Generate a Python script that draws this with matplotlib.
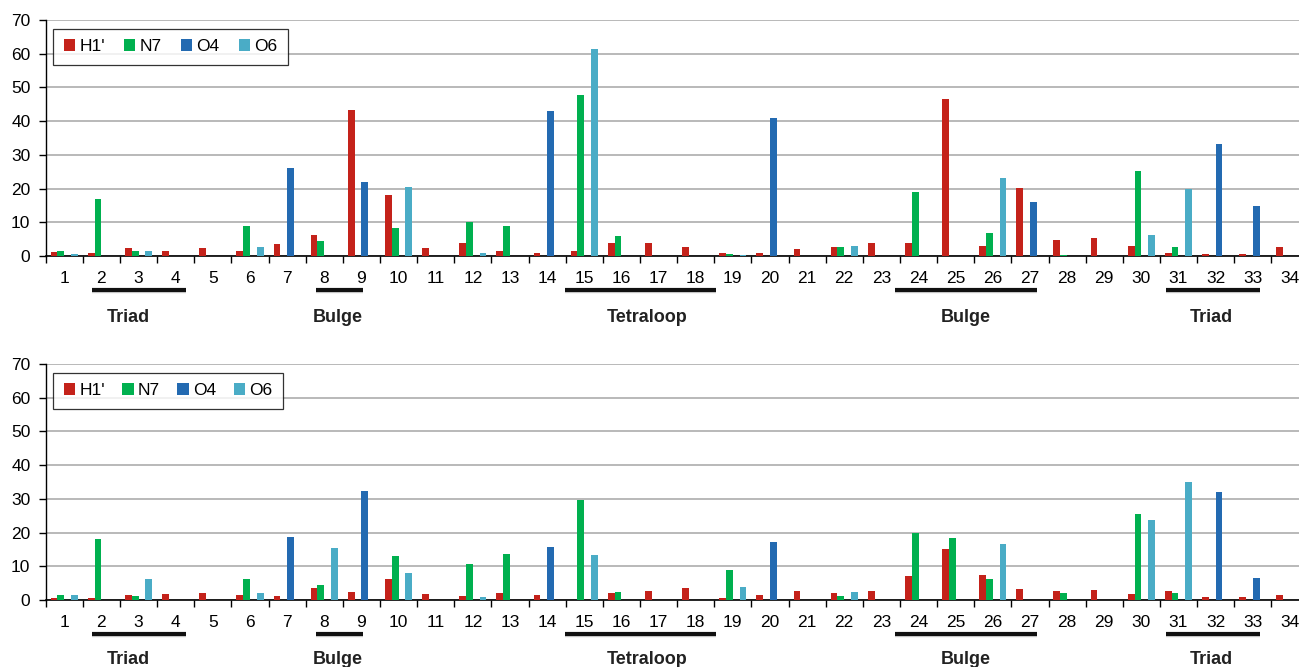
import numpy as np
import matplotlib
matplotlib.use('Agg')
import matplotlib.pyplot as plt

plt.rcParams['font.family'] = ['Liberation Sans', 'DejaVu Sans']

# residue numbers
residues = list(range(1, 35))
series = ["H1'", 'N7', 'O4', 'O6']
colors = ['#C4221A', '#00B04F', '#236AB1', '#4AACC6']

# top panel
top_h1 = [1.2, 0.9, 2.5, 1.4, 2.4, 1.4, 3.5, 6.2, 43.3, 18.1, 2.3, 3.9, 1.5, 1.0, 1.4, 3.8, 4.0,
          2.7, 0.9, 0.9, 2.0, 2.7, 4.0, 4.0, 46.5, 2.9, 20.2, 4.7, 5.2, 2.9, 0.9, 0.5, 0.5, 2.6]
top_n7 = [1.4, 16.9, 1.5, 0, 0, 8.8, 0, 4.5, 0, 8.3, 0, 10.0, 8.8, 0, 47.7, 5.9, 0,
          0, 0.6, 0, 0, 2.6, 0, 19.0, 0, 6.9, 0, 0.2, 0, 25.1, 2.7, 0, 0, 0]
top_o4 = [0, 0, 0, 0, 0, 0, 26.2, 0, 22.0, 0, 0, 0, 0, 43.0, 0, 0, 0,
          0, 0, 40.9, 0, 0, 0, 0, 0, 0, 16.1, 0, 0, 0, 0, 33.1, 14.7, 0]
top_o6 = [0.6, 0, 1.5, 0, 0, 2.7, 0, 0, 0, 20.5, 0, 0.9, 0, 0, 61.3, 0, 0,
          0, 0.2, 0, 0, 3.1, 0, 0, 0, 23.1, 0, 0, 0, 6.1, 19.9, 0, 0, 0]

# bottom panel
bot_h1 = [0.5, 0.7, 1.6, 1.8, 2.0, 1.4, 1.2, 3.5, 2.3, 6.1, 1.7, 1.2, 2.2, 1.6, 0, 2.1, 2.7,
          3.5, 0.6, 1.4, 2.7, 2.1, 2.7, 7.1, 15.0, 7.3, 3.2, 2.8, 3.1, 1.9, 2.8, 0.9, 0.8, 1.5]
bot_n7 = [1.6, 18.1, 1.2, 0, 0, 6.2, 0, 4.6, 0, 13.1, 0, 10.6, 13.8, 0, 29.7, 2.5, 0,
          0, 8.9, 0, 0, 1.2, 0, 19.8, 18.4, 6.2, 0, 2.1, 0, 25.4, 2.1, 0, 0, 0]
bot_o4 = [0, 0, 0, 0, 0, 0, 18.7, 0, 32.2, 0, 0, 0, 0, 15.6, 0, 0, 0,
          0, 0, 17.1, 0, 0, 0, 0, 0, 0, 0, 0, 0, 0, 0, 32.0, 6.5, 0]
bot_o6 = [1.4, 0, 6.1, 0, 0, 2.1, 0, 15.4, 0, 8.0, 0, 0.8, 0, 0, 13.4, 0, 0,
          0, 3.9, 0, 0, 2.4, 0, 0, 0, 16.7, 0, 0, 0, 23.7, 35.1, 0, 0, 0]

# structural regions under the residue axis
region_labels = ['Triad', 'Bulge', 'Tetraloop', 'Bulge', 'Triad']
# underline extents in residue units
region_left = [1.75, 7.78, 14.48, 23.37, 30.66]
region_right = [4.28, 9.04, 18.56, 27.19, 33.19]
label_x = [2.72, 8.37, 16.69, 25.28, 31.89]

fig = plt.figure(figsize=(12.99, 6.67), dpi=100)
ax_top = fig.add_axes([0.0352, 0.6162, 0.9721, 0.3538])
ax_bot = fig.add_axes([0.0352, 0.1004, 0.9721, 0.3538])

x = np.array(residues)
w = 0.183
offsets = [-1.5 * w, -0.5 * w, 0.5 * w, 1.5 * w]


def draw_panel(ax, data, colsp, label_y):
    for vals, off, col, name in zip(data, offsets, colors, series):
        ax.bar(x + off, vals, width=w, color=col, label=name, zorder=3,
               edgecolor='none')
    ax.set_xlim(0.5, 34.5)
    ax.set_ylim(0, 70)
    ax.set_yticks(range(0, 71, 10))
    ax.yaxis.grid(True, color='#A6A6A6', linewidth=1.1, zorder=0)
    ax.set_axisbelow(True)
    for s in ['top', 'right']:
        ax.spines[s].set_visible(False)
    ax.spines['left'].set_linewidth(1.0)
    ax.spines['bottom'].set_linewidth(1.2)
    ax.set_xticks(x)
    ax.set_xticklabels([str(r) for r in residues])
    ax.set_xticks(np.arange(0.5, 35, 1), minor=True)
    ax.tick_params(axis='x', which='major', length=0, pad=11, labelsize=12.5)
    ax.tick_params(axis='x', which='minor', length=5, width=1, direction='out')
    ax.tick_params(axis='y', length=5, width=1, pad=6, labelsize=12.5)
    leg = ax.legend(loc='upper left', ncol=4, frameon=True, fancybox=False,
                    edgecolor='black', fontsize=12.5, handlelength=0.65,
                    handleheight=0.65, handletextpad=0.25, columnspacing=colsp,
                    borderpad=0.6, bbox_to_anchor=(0.006, 0.963), borderaxespad=0)
    leg.get_frame().set_linewidth(0.9)
    leg.set_zorder(5)
    tr = ax.get_xaxis_transform()
    for lab, x0, x1, lx in zip(region_labels, region_left, region_right, label_x):
        ax.plot([x0, x1], [-0.148, -0.148], transform=tr, color='#AAAAAA',
                linewidth=3.2, clip_on=False, solid_capstyle='butt', alpha=0.5,
                zorder=1)
        ax.plot([x0, x1], [-0.142, -0.142], transform=tr, color='#111111',
                linewidth=3.0, clip_on=False, solid_capstyle='butt', zorder=2)
        ax.text(lx, label_y, lab, transform=tr, ha='center', va='center',
                fontsize=13, fontweight='bold', color='#222222')


draw_panel(ax_top, [top_h1, top_n7, top_o4, top_o6], 1.1, -0.262)
draw_panel(ax_bot, [bot_h1, bot_n7, bot_o4, bot_o6], 1.0, -0.252)

fig.savefig('out.png', dpi=100)
